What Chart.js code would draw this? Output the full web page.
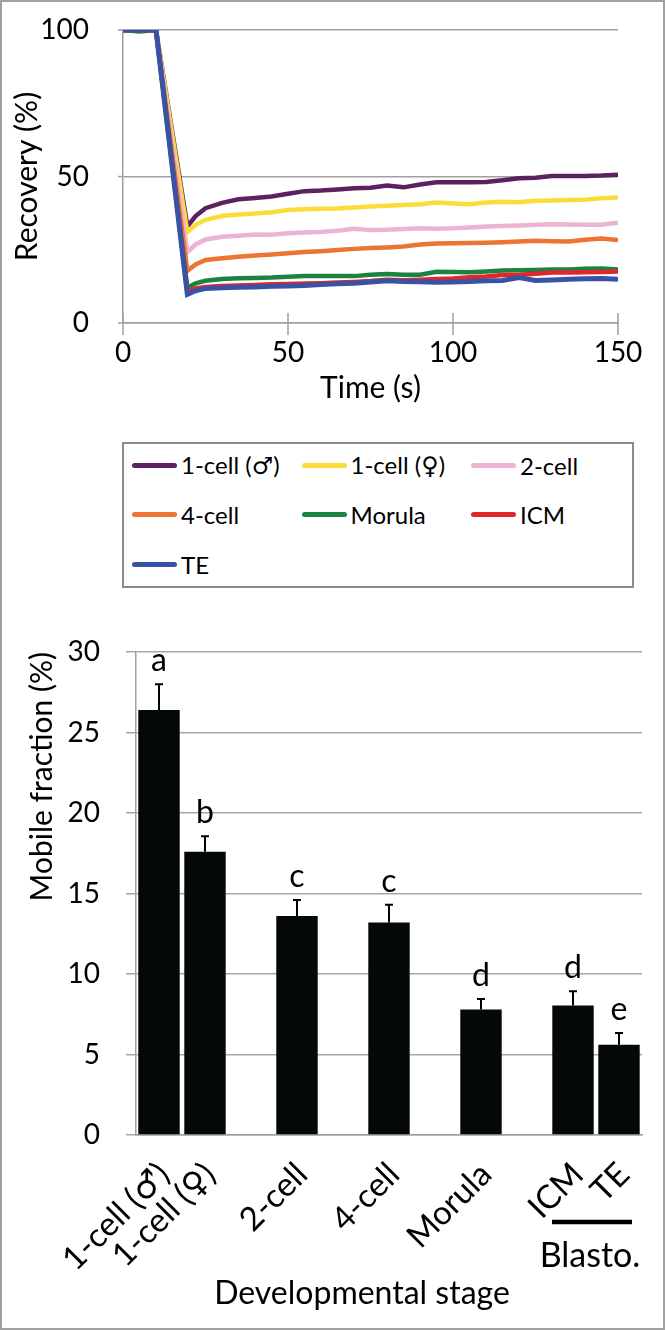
<!DOCTYPE html>
<html>
<head>
<meta charset="utf-8">
<script src="https://cdn.jsdelivr.net/npm/chart.js@4.4.1/dist/chart.umd.min.js"></script>
<style>
  body { margin: 0; background: #fff; font-family: Lato, 'DejaVu Sans', sans-serif; }
  #page { position: relative; width: 665px; height: 1330px; overflow: hidden; }
  #frame { position: absolute; left: 0; top: 0; width: 665px; height: 1330px; box-sizing: border-box; border: 2px solid #a0a0a0; pointer-events: none; }
  #recovery { position: absolute; left: 0; top: 0; }
  #mobile { position: absolute; left: 0; top: 600px; }
  #legend { position: absolute; left: 122px; top: 442px; width: 512px; height: 146px; box-sizing: border-box; border: 2px solid #8c8c8c; }
  .item { position: absolute; display: flex; align-items: center; height: 30px; font-size: 24px; color: #000; white-space: nowrap; }
  .swatch { width: 45px; height: 5px; border-radius: 3px; margin-right: 4px; }
</style>
</head>
<body>
<div id="page">
  <canvas id="recovery" width="665" height="420"></canvas>
  <div id="legend"></div>
  <canvas id="mobile" width="665" height="730"></canvas>
  <div id="frame"></div>
</div>
<script>
// FRAP recovery curves (top panel)
const time = [0, 5, 10, 19.5, 22, 25, 30, 35, 40, 45, 50, 55, 60, 65, 70, 75, 80, 85, 90, 95, 100, 105, 110, 115, 120, 125, 130, 135, 140, 145, 150];

const stageNames = ['1-cell (♂)', '1-cell (♀)', '2-cell', '4-cell', 'Morula', 'ICM', 'TE'];
const stageColors = ['#5c2161', '#fcdc3b', '#edb3d3', '#ee7434', '#1a8340', '#e3262c', '#3953a4'];

const recMale   = [100, 100, 100, 33.0, 36.5, 39.2, 41.0, 42.2, 42.7, 43.2, 44.1, 45.0, 45.2, 45.6, 46.0, 46.2, 46.9, 46.3, 47.3, 48.0, 48.0, 48.0, 48.1, 48.7, 49.4, 49.6, 50.2, 50.2, 50.2, 50.3, 50.6];
const recFemale = [100, 100, 100, 31.0, 33.5, 35.2, 36.5, 37.0, 37.4, 37.8, 38.6, 38.8, 39.0, 39.1, 39.4, 39.8, 40.0, 40.3, 40.5, 41.1, 40.8, 40.5, 41.1, 41.4, 41.2, 41.7, 41.8, 42.0, 42.1, 42.6, 42.8];
const rec2cell  = [100, 100, 100, 24.2, 26.8, 28.5, 29.4, 29.8, 30.2, 30.1, 30.6, 30.9, 31.1, 31.5, 32.2, 31.7, 31.8, 32.1, 32.3, 32.2, 32.3, 32.6, 32.9, 33.1, 33.3, 33.5, 33.7, 33.6, 33.5, 33.5, 34.2];
const rec4cell  = [100, 100, 100, 17.8, 20.0, 21.5, 22.1, 22.6, 23.0, 23.4, 23.8, 24.2, 24.5, 24.9, 25.3, 25.6, 25.8, 26.1, 26.8, 27.1, 27.2, 27.3, 27.4, 27.6, 27.8, 28.1, 27.9, 27.8, 28.4, 28.8, 28.3];
const recMorula = [100, 99.5, 100, 12.0, 13.5, 14.4, 15.0, 15.3, 15.4, 15.5, 15.8, 16.0, 16.0, 16.0, 16.0, 16.5, 16.7, 16.5, 16.5, 17.5, 17.4, 17.3, 17.6, 17.9, 18.0, 18.1, 18.3, 18.3, 18.5, 18.6, 18.3];
const recICM    = [100, 100, 100, 10.8, 11.8, 12.3, 12.6, 12.8, 13.0, 13.2, 13.3, 13.5, 13.6, 13.8, 14.0, 14.3, 14.8, 14.6, 14.8, 15.0, 15.2, 15.6, 15.9, 16.4, 16.5, 16.8, 17.2, 17.2, 17.3, 17.4, 17.6];
const recTE     = [100, 100, 100, 9.8, 11.0, 11.8, 12.0, 12.2, 12.3, 12.5, 12.6, 12.8, 13.1, 13.4, 13.6, 14.0, 14.4, 14.2, 14.1, 13.9, 14.0, 14.2, 14.4, 14.5, 15.5, 14.5, 14.7, 14.9, 15.1, 15.2, 14.9];
const recoverySeries = [recMale, recFemale, rec2cell, rec4cell, recMorula, recICM, recTE];

// Mobile fraction (bottom panel); empty slots make the gaps between groups
const stageSlots     = ['1-cell (♂)', '1-cell (♀)', '', '2-cell', '', '4-cell', '', 'Morula', '', 'ICM', 'TE'];
const mobileFraction = [26.4, 17.6, null, 13.6, null, 13.2, null, 7.8, null, 8.05, 5.6];
const mobileError    = [1.6, 0.95, null, 1.0, null, 1.1, null, 0.65, null, 0.88, 0.73];
const sigLetters     = ['a', 'b', '', 'c', '', 'c', '', 'd', '', 'd', 'e'];

Chart.defaults.font.family = "Lato, 'DejaVu Sans'";
Chart.defaults.color = '#000';

const axisGrey = '#a0a0a0';

// legend built from the same names/colours
const legendBox = document.getElementById('legend');
stageNames.forEach((name, i) => {
    const item = document.createElement('div');
    item.className = 'item';
    item.style.left = (8 + (i % 3) * 169.5) + 'px';
    item.style.top = (6 + Math.floor(i / 3) * 49.5) + 'px';
    item.innerHTML = `<span class="swatch" style="background:${stageColors[i]}"></span>${name}`;
    legendBox.appendChild(item);
});

// small tick marks: x ticks cross the axis, y ticks stick out 5px
const axisTicks = {
    id: 'axisTicks',
    afterDraw(chart) {
        const { ctx, chartArea, scales: { x, y } } = chart;
        ctx.save();
        ctx.strokeStyle = axisGrey;
        ctx.lineWidth = 1.5;
        ctx.beginPath();
        x.ticks.forEach(t => {
            const px = x.getPixelForValue(t.value);
            ctx.moveTo(px, chartArea.bottom - 10);
            ctx.lineTo(px, chartArea.bottom + 12);
        });
        y.ticks.forEach(t => {
            const py = y.getPixelForValue(t.value);
            ctx.moveTo(chartArea.left - 5, py);
            ctx.lineTo(chartArea.left, py);
        });
        ctx.stroke();
        ctx.restore();
    }
};

new Chart(document.getElementById('recovery'), {
    type: 'line',
    data: {
        datasets: recoverySeries.map((vals, i) => ({
            label: stageNames[i],
            data: vals.map((v, k) => ({ x: time[k], y: v })),
            borderColor: stageColors[i],
            borderWidth: i === 6 ? 5 : 4.5,
            pointRadius: 0,
            tension: 0,
            order: recoverySeries.length - i
        }))
    },
    options: {
        responsive: false,
        animation: false,
        layout: { padding: { left: 0, right: 47, top: 30, bottom: 0 } },
        plugins: { legend: { display: false }, tooltip: { enabled: false } },
        scales: {
            x: {
                type: 'linear',
                min: 0,
                max: 150,
                ticks: { stepSize: 50, font: { size: 28 }, padding: 7, maxRotation: 0 },
                grid: { drawOnChartArea: false, tickLength: 6, tickColor: 'rgba(0,0,0,0)' },
                border: { color: axisGrey, width: 1.5 },
                title: { display: true, text: 'Time (s)', font: { size: 30 }, padding: { top: 0, bottom: 14 } },
                afterFit: s => { s.height = 97; }
            },
            y: {
                min: 0,
                max: 100,
                ticks: { stepSize: 50, font: { size: 28 }, padding: 12 },
                grid: { color: axisGrey, lineWidth: 1.5, tickLength: 22, tickColor: 'rgba(0,0,0,0)' },
                border: { color: axisGrey, width: 1.5 },
                title: { display: true, text: 'Recovery (%)', font: { size: 30 }, padding: { top: 9, bottom: 0 } },
                afterFit: s => { s.width = 123; }
            }
        }
    },
    plugins: [axisTicks]
});

const barExtras = {
    id: 'barExtras',
    afterDatasetsDraw(chart) {
        const { ctx, scales: { x, y } } = chart;
        const bars = chart.getDatasetMeta(0).data;
        ctx.save();
        ctx.strokeStyle = '#000';
        ctx.fillStyle = '#000';
        ctx.lineWidth = 2;
        ctx.font = "32px Lato, 'DejaVu Sans'";
        ctx.textAlign = 'center';
        ctx.textBaseline = 'alphabetic';
        bars.forEach((bar, i) => {
            if (mobileFraction[i] == null) return;
            const top = y.getPixelForValue(mobileFraction[i]);
            const errTop = y.getPixelForValue(mobileFraction[i] + mobileError[i]);
            ctx.beginPath();
            ctx.moveTo(bar.x, top);
            ctx.lineTo(bar.x, errTop);
            ctx.moveTo(bar.x - 4, errTop);
            ctx.lineTo(bar.x + 4, errTop);
            ctx.stroke();
            ctx.fillText(sigLetters[i], bar.x, errTop - 13);
        });
        // blastocyst bracket under ICM / TE
        const xICM = x.getPixelForValue(9);
        const xTE = x.getPixelForValue(10);
        ctx.lineWidth = 4.5;
        ctx.beginPath();
        ctx.moveTo(xICM - 21, 622);
        ctx.lineTo(xTE + 13, 622);
        ctx.stroke();
        ctx.font = "34px Lato, 'DejaVu Sans'";
        ctx.textBaseline = 'middle';
        ctx.fillText('Blasto.', (xICM + xTE) / 2 - 6, 656);
        ctx.font = "32px Lato, 'DejaVu Sans'";
        ctx.fillText('Developmental stage', 362, 694);
        ctx.restore();
    }
};

new Chart(document.getElementById('mobile'), {
    type: 'bar',
    data: {
        labels: stageSlots,
        datasets: [{
            data: mobileFraction,
            backgroundColor: '#050808',
            barPercentage: 0.9,
            categoryPercentage: 1
        }]
    },
    options: {
        responsive: false,
        animation: false,
        layout: { padding: { left: 0, right: 23, top: 52, bottom: 0 } },
        plugins: { legend: { display: false }, tooltip: { enabled: false } },
        scales: {
            x: {
                ticks: { font: { size: 33 }, minRotation: 45, maxRotation: 45, autoSkip: false, padding: 12, labelOffset: 5 },
                grid: { display: false },
                border: { color: axisGrey, width: 1.5 },
                afterFit: s => { s.height = 195; }
            },
            y: {
                min: 0,
                max: 30,
                ticks: { stepSize: 5, font: { size: 28 }, padding: 26 },
                grid: { color: '#a6a6a6', lineWidth: 1.5, tickLength: 10 },
                border: { color: axisGrey, width: 1.5 },
                title: { display: true, text: 'Mobile fraction (%)', align: 'end', font: { size: 30 }, padding: { top: 24, bottom: 0 } },
                afterFit: s => { s.width = 136; }
            }
        }
    },
    plugins: [barExtras]
});
</script>
</body>
</html>
